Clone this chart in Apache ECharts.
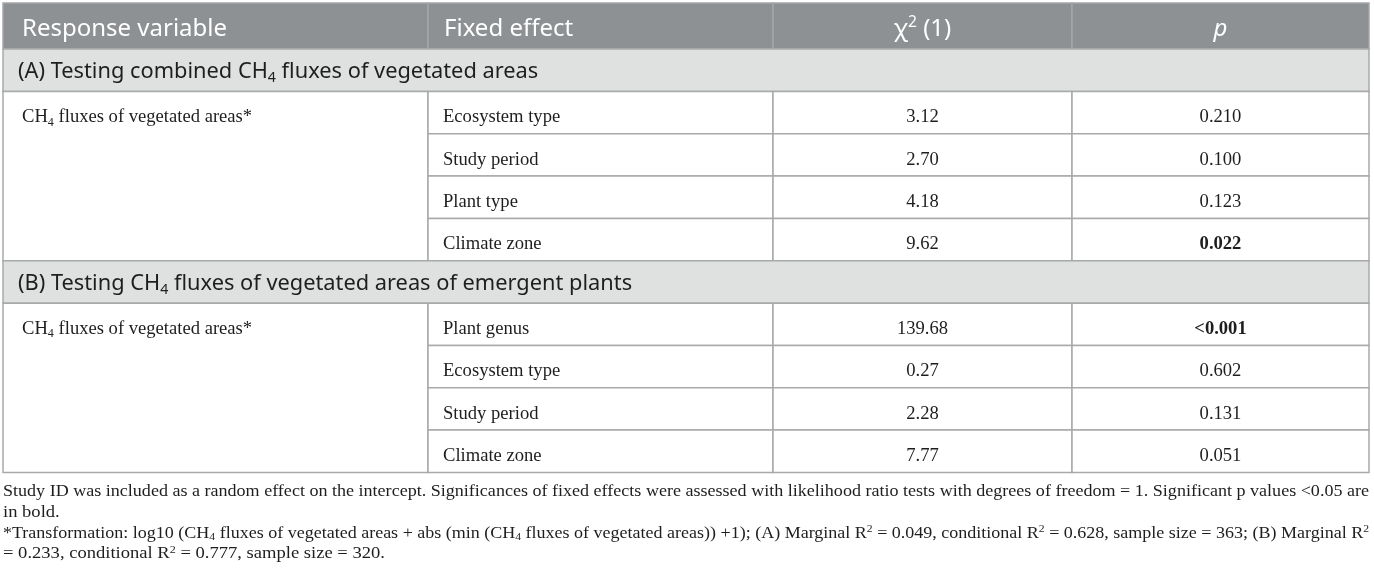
<!DOCTYPE html>
<html>
<head>
<meta charset="utf-8">
<script src="https://cdn.jsdelivr.net/npm/echarts@6/dist/echarts.min.js"></script>
<style>
html,body{margin:0;padding:0;background:#fff;}
#main{width:1374px;height:578px;}
</style>
</head>
<body>
<div id="main"></div>
<script>
// ---------- DATA ----------
const headers = ['Response variable', 'Fixed effect', 'χ{sup|2} (1)', '{it|p}'];
const sectionTitles = [
  '(A) Testing combined CH{sub|4} fluxes of vegetated areas',
  '(B) Testing CH{sub|4} fluxes of vegetated areas of emergent plants'
];
const responseVariable = 'CH{sub|4} fluxes of vegetated areas*';
const effectsA = ['Ecosystem type', 'Study period', 'Plant type', 'Climate zone'];
const chiA = [3.12, 2.70, 4.18, 9.62];
const pA = ['0.210', '0.100', '0.123', '0.022'];
const sigA = [false, false, false, true];
const effectsB = ['Plant genus', 'Ecosystem type', 'Study period', 'Climate zone'];
const chiB = [139.68, 0.27, 2.28, 7.77];
const pB = ['<0.001', '0.602', '0.131', '0.051'];
const sigB = [true, false, false, false];
const footnotes = [
  'Study ID was included as a random effect on the intercept. Significances of fixed effects were assessed with likelihood ratio tests with degrees of freedom = 1. Significant p values <0.05 are',
  'in bold.',
  '*Transformation: log10 (CH{sub|4} fluxes of vegetated areas + abs (min (CH{sub|4} fluxes of vegetated areas)) +1); (A) Marginal R{sup|2} = 0.049, conditional R{sup|2} = 0.628, sample size = 363; (B) Marginal R{sup|2}',
  '= 0.233, conditional R{sup|2} = 0.777, sample size = 320.'
];
const justifiedLines = [true, false, true, false];

// ---------- LAYOUT ----------
const TABLE_W = 1366, TABLE_H = 470;
const colEdges = [0, 425, 770, 1069, 1366];
const colPad = [19, 16, 0, 0];
const headerH = 46, sectionH = 42.5, rowH = 42.3;
const C = {
  headerBg: '#8d9193', headerLine: '#a4a7a9', sectionBg: '#dfe1e0',
  border: '#a8aaa9', text: '#1e1e1e'
};
const SANS = '"Noto Sans", "Open Sans", sans-serif';
const SERIF = '"Liberation Serif", "DejaVu Serif", serif';

// build cell list
const cells = [];
let y = 0;
headers.forEach((h, i) => {
  cells.push({kind: 'header', x0: colEdges[i], x1: colEdges[i + 1], y0: y, y1: y + headerH, text: h,
    align: i < 2 ? 'left' : 'center', pad: colPad[i]});
});
y += headerH;
function addBlock(title, effects, chi, p, sig) {
  cells.push({kind: 'section', x0: 0, x1: TABLE_W, y0: y, y1: y + sectionH, text: title, align: 'left', pad: 15});
  y += sectionH;
  const top = y;
  cells.push({kind: 'resp', x0: colEdges[0], x1: colEdges[1], y0: top, y1: top + rowH * effects.length,
    text: responseVariable, align: 'left', textH: rowH, pad: colPad[0]});
  effects.forEach((e, i) => {
    const r0 = y, r1 = y + rowH;
    cells.push({kind: 'data', x0: colEdges[1], x1: colEdges[2], y0: r0, y1: r1, text: e, align: 'left', pad: colPad[1] - 1});
    cells.push({kind: 'data', x0: colEdges[2], x1: colEdges[3], y0: r0, y1: r1, text: chi[i].toFixed(2), align: 'center'});
    cells.push({kind: 'data', x0: colEdges[3], x1: colEdges[4], y0: r0, y1: r1, text: p[i], align: 'center', bold: sig[i]});
    y += rowH;
  });
}
addBlock(sectionTitles[0], effectsA, chiA, pA, sigA);
addBlock(sectionTitles[1], effectsB, chiB, pB, sigB);

const chart = echarts.init(document.getElementById('main'), null, {renderer: 'canvas'});

function richFor(font, size, color) {
  const s = size * 0.65;
  return {
    sub: {fontFamily: font, fontSize: s, lineHeight: s * 0.9, verticalAlign: 'bottom', fill: color},
    sup: {fontFamily: font, fontSize: s, lineHeight: s * 0.9, verticalAlign: 'top', fill: color},
    it: {fontFamily: font, fontSize: size, fontStyle: 'italic', fill: color, lineHeight: size * 1.2}
  };
}

function renderItem(params, api) {
  const c = cells[params.dataIndex];
  const p0 = api.coord([api.value(0), api.value(2)]);
  const p1 = api.coord([api.value(1), api.value(3)]);
  const x = p0[0], yy = p0[1], w = p1[0] - p0[0], h = p1[1] - p0[1];
  const children = [];
  let fill = '#fff', stroke = C.border, font = SERIF, size = 18.6, color = C.text, dy = 4.8;
  if (c.kind === 'header') { fill = C.headerBg; stroke = C.headerLine; font = SANS; size = 24; color = '#fff'; dy = 3; }
  if (c.kind === 'section') { fill = C.sectionBg; font = SANS; size = 21.8; dy = 2; }
  children.push({type: 'rect', shape: {x: x, y: yy, width: w, height: h},
    style: {fill: fill, stroke: stroke, lineWidth: 1.5}});
  const th = c.textH ? c.textH : h;
  children.push({type: 'text', style: {
    text: c.text,
    x: c.align === 'left' ? x + (c.pad || 0) : x + w / 2,
    y: yy + th / 2 + dy,
    align: c.align, verticalAlign: 'middle',
    fontFamily: font, fontSize: size, fontWeight: c.bold ? 'bold' : 'normal',
    fill: color, lineHeight: size * 1.2,
    rich: richFor(font, size, color)
  }});
  return {type: 'group', children: children};
}

// footnotes: measure natural width to stretch justified lines to the table width
const fnSize = 16, fnSub = 10.4;
const ctx = document.createElement('canvas').getContext('2d');
function measure(t) {
  let wsum = 0;
  const re = /\{(sub|sup)\|([^}]*)\}/g;
  let last = 0, m;
  const parts = [];
  while ((m = re.exec(t)) !== null) {
    parts.push([t.slice(last, m.index), fnSize]);
    parts.push([m[2], fnSub]);
    last = re.lastIndex;
  }
  parts.push([t.slice(last), fnSize]);
  parts.forEach(([s, sz]) => { ctx.font = sz + 'px "Liberation Serif"'; wsum += ctx.measureText(s).width; });
  return wsum;
}
const widths = footnotes.map(measure);
const scales = footnotes.map((t, i) => justifiedLines[i] ? TABLE_W / widths[i] : 1);
const jScales = scales.filter((s, i) => justifiedLines[i]);
const avgScale = jScales.reduce((a, b) => a + b, 0) / jScales.length * 1.03;
const graphics = footnotes.map((t, i) => ({
  type: 'text', x: 3, y: 492 + i * 20.7,
  scaleX: justifiedLines[i] ? scales[i] : avgScale,
  style: {
    text: t, fontFamily: SERIF, fontSize: fnSize, fill: C.text, lineHeight: 18,
    verticalAlign: 'middle', align: 'left',
    rich: {
      sub: {fontFamily: SERIF, fontSize: fnSub, lineHeight: 9, verticalAlign: 'bottom', fill: C.text},
      sup: {fontFamily: SERIF, fontSize: fnSub, lineHeight: 9, verticalAlign: 'top', fill: C.text}
    }
  }
}));

chart.setOption({
  animation: false,
  grid: {left: 3, top: 3, width: TABLE_W, height: TABLE_H},
  xAxis: {type: 'value', min: 0, max: TABLE_W, show: false},
  yAxis: {type: 'value', min: 0, max: TABLE_H, inverse: true, show: false},
  graphic: graphics,
  series: [{
    type: 'custom',
    renderItem: renderItem,
    data: cells.map(c => [c.x0, c.x1, c.y0, c.y1]),
    clip: false
  }]
});
</script>
</body>
</html>
